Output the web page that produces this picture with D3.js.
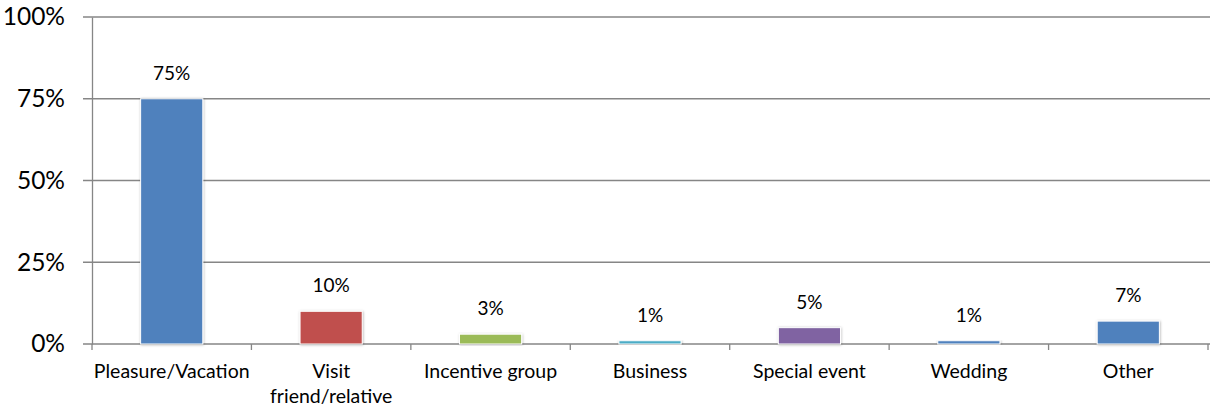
<!DOCTYPE html>
<html>
<head>
<meta charset="utf-8">
<script src="https://cdn.jsdelivr.net/npm/d3@7/dist/d3.min.js"></script>
<style>
  html, body { margin: 0; padding: 0; background: #fff; }
  svg { display: block; }
  text { font-family: Lato, "Open Sans", sans-serif; fill: #000; }
</style>
</head>
<body>
<svg id="chart" width="1212" height="409"></svg>
<script>
// Trip purpose shares (percent)
const categories = ["Pleasure/Vacation", "Visit\nfriend/relative", "Incentive group", "Business", "Special event", "Wedding", "Other"];
const values = [75, 10, 3, 1, 5, 1, 7];
const colors = ["#4F81BD", "#C0504D", "#9BBB59", "#4BACC6", "#8064A2", "#4F81BD", "#4F81BD"];
const yTicks = [0, 25, 50, 75, 100];

const svg = d3.select("#chart");
const plotLeft = 92, plotRight = 1208, plotTop = 17, plotBottom = 344;

const x = d3.scaleBand()
  .domain(categories)
  .range([plotLeft, plotRight])
  .paddingInner(0.61)
  .paddingOuter(0.305);

const y = d3.scaleLinear().domain([0, 100]).range([plotBottom, plotTop]);

// soft shadow behind bars
const defs = svg.append("defs");
const f = defs.append("filter").attr("id", "shadow")
  .attr("x", "-20%").attr("y", "-20%").attr("width", "140%").attr("height", "140%");
f.append("feDropShadow").attr("dx", 0.5).attr("dy", 0.5).attr("stdDeviation", 1.2)
  .attr("flood-color", "#000").attr("flood-opacity", 0.3);

// horizontal gridlines with left tick stubs
svg.append("g")
  .selectAll("line")
  .data(yTicks)
  .join("line")
  .attr("x1", plotLeft - 9).attr("x2", plotRight + 2)
  .attr("y1", d => y(d)).attr("y2", d => y(d))
  .attr("stroke", "#868686").attr("stroke-width", 1.3);

// y axis
const yAxis = d3.axisLeft(y).tickValues(yTicks).tickFormat(d => d + "%").tickSize(0).tickPadding(27);
const gy = svg.append("g").attr("transform", `translate(${plotLeft},0)`).call(yAxis);
gy.select(".domain").attr("stroke", "#868686").attr("stroke-width", 1.3);
gy.selectAll("text").style("font-size", "24.5px").style("font-family", "Lato, sans-serif").attr("fill", "#000");

// x axis tick marks at band edges
const edges = categories.map(c => x(c) - x.step() * x.paddingInner() / 2).concat([plotRight]);
svg.append("g").selectAll("line")
  .data(edges)
  .join("line")
  .attr("x1", d => d).attr("x2", d => d)
  .attr("y1", plotBottom).attr("y2", plotBottom + 6)
  .attr("stroke", "#868686").attr("stroke-width", 1.3);

// bars
svg.append("g")
  .selectAll("rect")
  .data(values)
  .join("rect")
  .attr("x", (d, i) => x(categories[i]))
  .attr("width", x.bandwidth())
  .attr("y", d => y(d))
  .attr("height", d => plotBottom - y(d))
  .attr("fill", (d, i) => colors[i])
  .attr("stroke", "#fff").attr("stroke-width", 1)
  .attr("filter", "url(#shadow)");

// value labels
svg.append("g")
  .selectAll("text")
  .data(values)
  .join("text")
  .attr("x", (d, i) => x(categories[i]) + x.bandwidth() / 2)
  .attr("y", d => y(d) - 19)
  .attr("text-anchor", "middle")
  .style("font-size", "19px")
  .text(d => d + "%");

// category labels (may wrap onto two lines)
const xl = svg.append("g")
  .selectAll("text")
  .data(categories)
  .join("text")
  .attr("x", d => x(d) + x.bandwidth() / 2)
  .attr("y", 378)
  .attr("text-anchor", "middle")
  .style("font-size", "19.5px");
xl.each(function(d) {
  const t = d3.select(this);
  d.split("\n").forEach((line, k) => {
    t.append("tspan").attr("x", x(d) + x.bandwidth() / 2).attr("dy", k === 0 ? 0 : 25).text(line);
  });
});
</script>
</body>
</html>
